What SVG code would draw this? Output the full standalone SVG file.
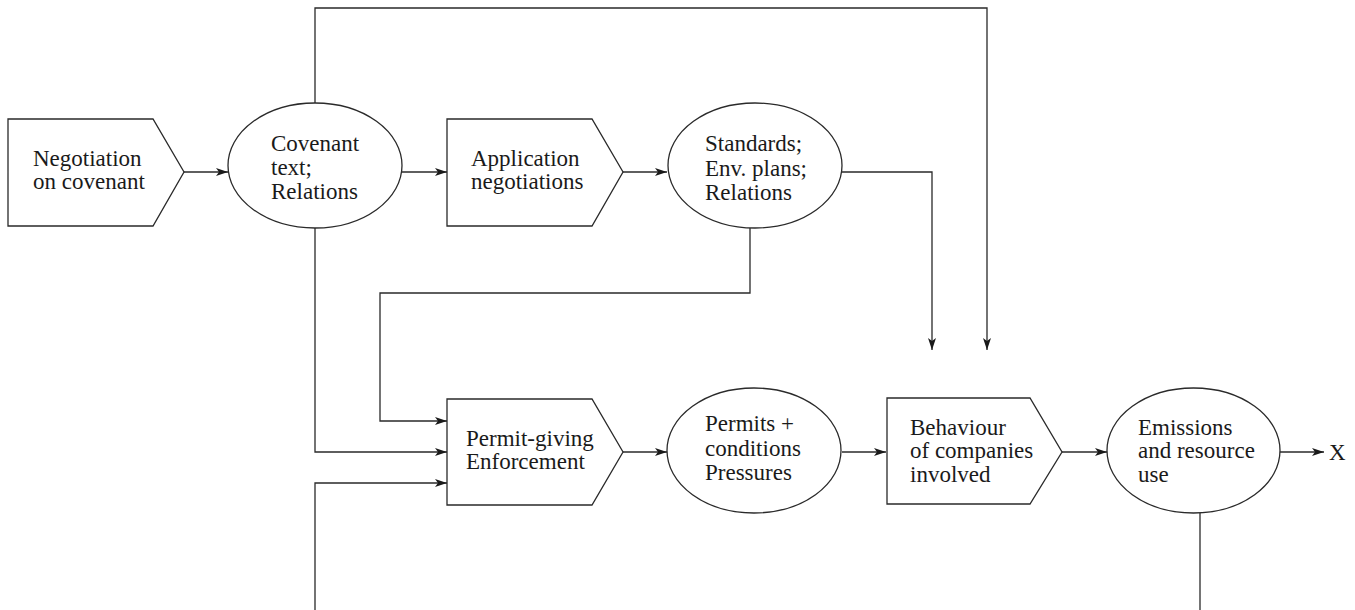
<svg xmlns="http://www.w3.org/2000/svg" width="1355" height="610" viewBox="0 0 1355 610">
  <style>
    .shape { fill: #ffffff; stroke: #2a2a2a; stroke-width: 1.3; }
    .wire { fill: none; stroke: #2a2a2a; stroke-width: 1.3; }
    .label { font-family: "Liberation Serif", "Times New Roman", serif; font-size: 23px; fill: #1a1a1a; }
  </style>
  <defs>
    <marker id="arrow" viewBox="0 0 12 8" refX="12" refY="4" markerWidth="12" markerHeight="8" markerUnits="userSpaceOnUse" orient="auto">
      <path d="M0,0 L12,4 L0,8 L3,4 z" fill="#1a1a1a"/>
    </marker>
  </defs>
  <rect width="1355" height="610" fill="#ffffff"/>

  <!-- connectors -->
  <g id="connectors">
    <line class="wire" x1="184" y1="172" x2="228" y2="172" marker-end="url(#arrow)"/>
    <line class="wire" x1="402" y1="172" x2="447" y2="172" marker-end="url(#arrow)"/>
    <line class="wire" x1="623" y1="172" x2="667" y2="172" marker-end="url(#arrow)"/>
    <polyline class="wire" points="842,172 932,172 932,350" marker-end="url(#arrow)"/>
    <polyline class="wire" points="315,103 315,8 987,8 987,350" marker-end="url(#arrow)"/>
    <polyline class="wire" points="315,228 315,452 447,452" marker-end="url(#arrow)"/>
    <polyline class="wire" points="750,228 750,293 380,293 380,421 447,421" marker-end="url(#arrow)"/>
    <polyline class="wire" points="315,610 315,483 447,483" marker-end="url(#arrow)"/>
    <line class="wire" x1="623" y1="452" x2="667" y2="452" marker-end="url(#arrow)"/>
    <line class="wire" x1="842" y1="452" x2="886" y2="452" marker-end="url(#arrow)"/>
    <line class="wire" x1="1062" y1="452" x2="1107" y2="452" marker-end="url(#arrow)"/>
    <line class="wire" x1="1280" y1="452" x2="1324" y2="452" marker-end="url(#arrow)"/>
    <line class="wire" x1="1200" y1="513" x2="1200" y2="610"/>
  </g>

  <g id="negotiation">
    <polygon class="shape" points="8,119 153,119 184,172 153,226 8,226"/>
    <text class="label" x="33" y="166">Negotiation</text>
    <text class="label" x="33" y="189">on covenant</text>
  </g>

  <g id="covenant">
    <ellipse class="shape" cx="315" cy="165.5" rx="87" ry="62.5"/>
    <text class="label" x="271" y="151">Covenant</text>
    <text class="label" x="271" y="175">text;</text>
    <text class="label" x="271" y="199">Relations</text>
  </g>

  <g id="application">
    <polygon class="shape" points="447,119 592,119 623,172 592,226 447,226"/>
    <text class="label" x="471" y="166">Application</text>
    <text class="label" x="471" y="189">negotiations</text>
  </g>

  <g id="standards">
    <ellipse class="shape" cx="755" cy="165.5" rx="87" ry="62.5"/>
    <text class="label" x="705" y="151">Standards;</text>
    <text class="label" x="705" y="176">Env. plans;</text>
    <text class="label" x="705" y="200">Relations</text>
  </g>

  <g id="permit-giving">
    <polygon class="shape" points="447,399 592,399 623,452 592,505 447,505"/>
    <text class="label" x="466" y="446">Permit-giving</text>
    <text class="label" x="466" y="469">Enforcement</text>
  </g>

  <g id="permits">
    <ellipse class="shape" cx="754" cy="450.5" rx="87" ry="62.5"/>
    <text class="label" x="705" y="431">Permits +</text>
    <text class="label" x="705" y="456">conditions</text>
    <text class="label" x="705" y="480">Pressures</text>
  </g>

  <g id="behaviour">
    <polygon class="shape" points="887,398 1030,398 1062,452 1030,504 887,504"/>
    <text class="label" x="910" y="435">Behaviour</text>
    <text class="label" x="910" y="458">of companies</text>
    <text class="label" x="910" y="482">involved</text>
  </g>

  <g id="emissions">
    <ellipse class="shape" cx="1193.5" cy="450.5" rx="86.5" ry="62.5"/>
    <text class="label" x="1138" y="435">Emissions</text>
    <text class="label" x="1138" y="458">and resource</text>
    <text class="label" x="1138" y="482">use</text>
  </g>

  <g id="output-x">
    <text class="label" x="1329" y="460">X</text>
  </g>
</svg>
